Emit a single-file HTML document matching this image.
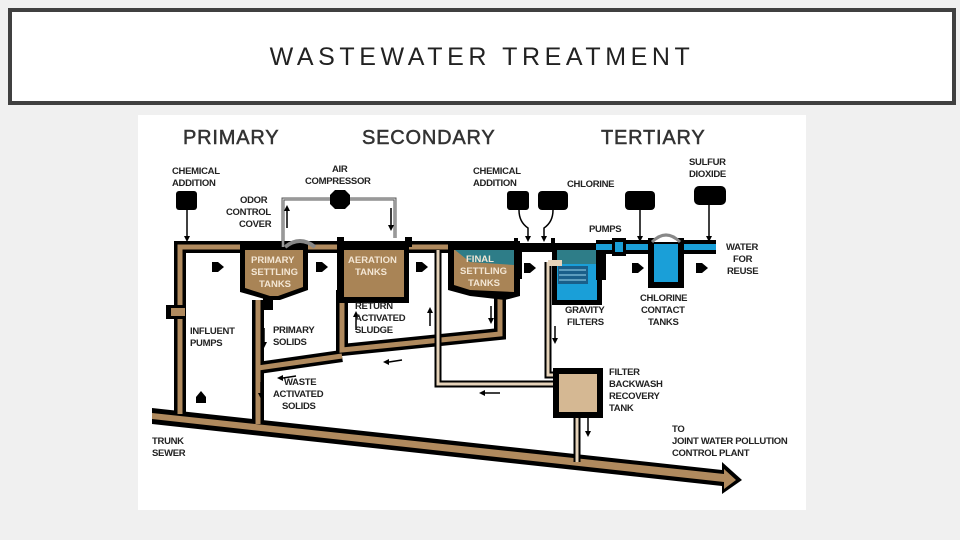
<!DOCTYPE html>
<html><head><meta charset="utf-8"><style>
html,body{margin:0;padding:0;background:#f0f0f0;}
body{width:960px;height:540px;position:relative;overflow:hidden;font-family:"Liberation Sans",sans-serif;}
.tb{position:absolute;left:8px;top:8px;width:940px;height:89px;border:4px solid #404040;background:#fff;}
.tt{position:absolute;left:0;right:0;top:31px;text-align:center;font-size:25px;letter-spacing:4.6px;color:#222;}
svg{position:absolute;left:0;top:0;}
text{font-family:"Liberation Sans",sans-serif;font-weight:bold;fill:#222;}
.s{font-size:9.5px;letter-spacing:-0.3px;}
.h{font-size:20px;fill:#333;letter-spacing:0.8px;font-weight:normal;stroke:#333;stroke-width:0.5px;}
.w{fill:#f3e6d4;font-size:9.5px;}
</style></head><body>
<div class="tb"><div class="tt">WASTEWATER TREATMENT</div></div>
<svg width="960" height="540" viewBox="0 0 960 540">
<rect x="138" y="115" width="668" height="395" fill="#fff"/>
<text class="h" x="183" y="144">PRIMARY</text>
<text class="h" x="362" y="144">SECONDARY</text>
<text class="h" x="601" y="144">TERTIARY</text>

<!-- trunk sewer -->
<polygon points="152,408 722,470 722,462 742,480 722,494 722,486 152,424" fill="#000"/>
<polygon points="152,413 724,474 724,469 736,480 724,489 724,482 152,419" fill="#b08a5e"/>

<g fill="none" stroke="#000" stroke-width="12" stroke-linejoin="miter">
<polyline points="180,412 180,247 460,247"/>
<polyline points="258,300 258,422"/>
<polyline points="500,295 500,334 342,350 342,290"/>
<polyline points="342,356 258,368"/>
</g>
<g fill="none" stroke="#b08a5e" stroke-width="5">
<polyline points="180,414 180,247 460,247"/>
<polyline points="258,300 258,424"/>
<polyline points="500,295 500,334 342,350 342,290"/>
<polyline points="342,356 258,368"/>
</g>
<rect x="166" y="305" width="18" height="14" fill="#000"/><rect x="171" y="308" width="14" height="8" fill="#b08a5e"/>

<polygon points="240,244 308,244 308,290 280,300 268,300 240,292" fill="#000"/>
<polygon points="245,250 303,250 303,287 278,296 270,296 245,288" fill="#a98456"/>
<rect x="263" y="296" width="10" height="14" fill="#000"/>
<path d="M285 247 q15 -12 30 0" fill="none" stroke="#888" stroke-width="4"/>
<rect x="337" y="241" width="72" height="62" fill="#000"/>
<rect x="344" y="250" width="60" height="47" fill="#a98456"/>
<rect x="337" y="237" width="7" height="10" fill="#000"/>
<rect x="405" y="237" width="7" height="10" fill="#000"/>
<polygon points="448,241 520,241 520,296 505,300 470,296 448,290" fill="#000"/>
<polygon points="454,250 514,250 514,292 470,290 454,285" fill="#a98456"/>
<polygon points="455,250 514,250 514,265 470,262" fill="#2e7d88"/>
<rect x="514" y="243" width="40" height="9" fill="#000"/>
<rect x="514" y="238" width="4" height="10" fill="#000"/><rect x="551" y="238" width="4" height="10" fill="#000"/>
<rect x="514" y="251" width="8" height="28" fill="#000"/>
<rect x="552" y="243" width="50" height="62" fill="#000"/>
<rect x="557" y="250" width="40" height="50" fill="#1a9fd8"/>
<rect x="557" y="250" width="40" height="14" fill="#2e7d88"/>
<rect x="558" y="266" width="30" height="18" fill="#1a5f8a"/>
<g stroke="#9fd8f0" stroke-width="1">
<line x1="559" y1="270" x2="586" y2="270"/><line x1="559" y1="275" x2="586" y2="275"/><line x1="559" y1="280" x2="586" y2="280"/>
</g>
<rect x="596" y="240" width="120" height="14" fill="#000"/>
<rect x="596" y="244" width="120" height="6" fill="#1a9fd8"/>
<rect x="596" y="250" width="10" height="30" fill="#000"/>
<rect x="612" y="238" width="14" height="18" fill="#000"/><rect x="615" y="242" width="8" height="10" fill="#1a9fd8"/>
<rect x="648" y="238" width="36" height="50" fill="#000"/>
<rect x="654" y="244" width="24" height="38" fill="#1a9fd8"/>
<path d="M652 242 q14 -14 28 0" fill="#fff" stroke="#888" stroke-width="3"/>

<g fill="none" stroke="#000" stroke-width="7">
<polyline points="438,250 438,384 560,384"/>
<polyline points="548,262 548,375 560,375"/>
<line x1="577" y1="415" x2="577" y2="462"/>
</g>
<g fill="none" stroke="#e6d3ba" stroke-width="3">
<polyline points="438,250 438,384 560,384"/>
<polyline points="548,262 548,375 560,375"/>
<line x1="577" y1="415" x2="577" y2="462"/>
</g>
<rect x="553" y="368" width="50" height="50" fill="#000"/>
<rect x="559" y="374" width="38" height="38" fill="#d5b893"/>
<rect x="548" y="260" width="14" height="6" fill="#e6d3ba"/>

<polyline points="283,247 283,199 395,199 395,238" fill="none" stroke="#555" stroke-width="3"/>
<polyline points="283,247 283,199 395,199 395,238" fill="none" stroke="#ddd" stroke-width="1"/>
<polygon points="335,190 345,190 350,195 350,204 345,209 335,209 330,204 330,195" fill="#000"/>

<rect x="176" y="191" width="21" height="19" rx="3" fill="#000"/>
<line x1="187" y1="210" x2="187" y2="238" stroke="#000" stroke-width="1.5"/>
<rect x="507" y="191" width="22" height="19" rx="3" fill="#000"/>
<rect x="538" y="191" width="30" height="19" rx="4" fill="#000"/>
<rect x="625" y="191" width="30" height="19" rx="4" fill="#000"/>
<rect x="694" y="186" width="32" height="19" rx="5" fill="#000"/>
<g stroke="#000" stroke-width="1.5" fill="none">
<path d="M519 210 q0 12 9 18 v10"/>
<path d="M553 210 q0 12 -9 18 v10"/>
<line x1="640" y1="210" x2="640" y2="238"/>
<line x1="709" y1="205" x2="709" y2="238"/>
<line x1="287" y1="228" x2="287" y2="211"/>
<line x1="391" y1="208" x2="391" y2="225"/>
<line x1="264" y1="328" x2="264" y2="345"/>
<line x1="356" y1="317" x2="356" y2="330"/>
<line x1="430" y1="313" x2="430" y2="326"/>
<line x1="491" y1="306" x2="491" y2="320"/>
<line x1="261" y1="382" x2="261" y2="395"/>
<line x1="555" y1="326" x2="555" y2="340"/>
<line x1="588" y1="418" x2="588" y2="433"/>
<line x1="389" y1="362" x2="402" y2="360"/>
<line x1="283" y1="378" x2="296" y2="376"/>
<line x1="485" y1="393" x2="500" y2="393"/>
</g>
<g fill="#000">
<polygon points="184,236 190,236 187,242"/>
<polygon points="525,236 531,236 528,242"/><polygon points="541,236 547,236 544,242"/>
<polygon points="637,236 643,236 640,242"/><polygon points="706,236 712,236 709,242"/>
<polygon points="284,211 290,211 287,205"/><polygon points="388,225 394,225 391,231"/>
<polygon points="261,342 267,342 264,348"/><polygon points="353,317 359,317 356,311"/>
<polygon points="427,313 433,313 430,307"/><polygon points="488,318 494,318 491,324"/>
<polygon points="258,393 264,393 261,399"/><polygon points="552,338 558,338 555,344"/>
<polygon points="585,431 591,431 588,437"/>
<polygon points="389,359 389,365 383,362"/><polygon points="283,375 283,381 277,378"/><polygon points="485,390 485,396 479,393"/>
<polygon points="212,262 218,262 224,267 218,272 212,272"/>
<polygon points="316,262 322,262 328,267 322,272 316,272"/>
<polygon points="416,262 422,262 428,267 422,272 416,272"/>
<polygon points="524,263 530,263 536,268 530,273 524,273"/>
<polygon points="632,263 638,263 644,268 638,273 632,273"/>
<polygon points="696,263 702,263 708,268 702,273 696,273"/>
<polygon points="196,397 196,403 206,403 206,397 201,391"/>
</g>

<text class="s" x="172" y="174">CHEMICAL</text><text class="s" x="172" y="186">ADDITION</text>
<text class="s" x="332" y="172">AIR</text><text class="s" x="305" y="184">COMPRESSOR</text>
<text class="s" x="240" y="203">ODOR</text><text class="s" x="226" y="215">CONTROL</text><text class="s" x="239" y="227">COVER</text>
<text class="s" x="473" y="174">CHEMICAL</text><text class="s" x="473" y="186">ADDITION</text>
<text class="s" x="567" y="187">CHLORINE</text>
<text class="s" x="689" y="165">SULFUR</text><text class="s" x="689" y="177">DIOXIDE</text>
<text class="s" x="589" y="232">PUMPS</text>
<text class="s" x="726" y="250">WATER</text><text class="s" x="733" y="262">FOR</text><text class="s" x="727" y="274">REUSE</text>
<text class="s" x="565" y="313">GRAVITY</text><text class="s" x="567" y="325">FILTERS</text>
<text class="s" x="640" y="301">CHLORINE</text><text class="s" x="641" y="313">CONTACT</text><text class="s" x="648" y="325">TANKS</text>
<text class="w" x="251" y="263">PRIMARY</text><text class="w" x="251" y="275">SETTLING</text><text class="w" x="259" y="287">TANKS</text>
<text class="w" x="348" y="263">AERATION</text><text class="w" x="355" y="275">TANKS</text>
<text class="w" x="466" y="262">FINAL</text><text class="w" x="460" y="274">SETTLING</text><text class="w" x="468" y="286">TANKS</text>
<text class="s" x="190" y="334">INFLUENT</text><text class="s" x="190" y="346">PUMPS</text>
<text class="s" x="273" y="333">PRIMARY</text><text class="s" x="273" y="345">SOLIDS</text>
<text class="s" x="355" y="309">RETURN</text><text class="s" x="355" y="321">ACTIVATED</text><text class="s" x="355" y="333">SLUDGE</text>
<text class="s" x="284" y="385">WASTE</text><text class="s" x="273" y="397">ACTIVATED</text><text class="s" x="282" y="409">SOLIDS</text>
<text class="s" x="609" y="375">FILTER</text><text class="s" x="609" y="387">BACKWASH</text><text class="s" x="609" y="399">RECOVERY</text><text class="s" x="609" y="411">TANK</text>
<text class="s" x="152" y="444">TRUNK</text><text class="s" x="152" y="456">SEWER</text>
<text class="s" x="672" y="432">TO</text><text class="s" x="672" y="444">JOINT WATER POLLUTION</text><text class="s" x="672" y="456">CONTROL PLANT</text>
</svg>
</body></html>
